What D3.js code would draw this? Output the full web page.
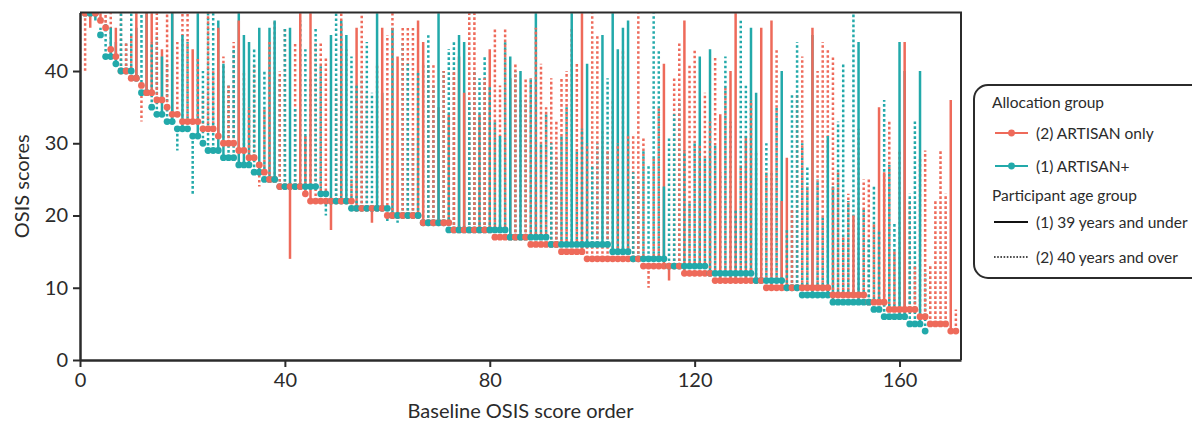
<!DOCTYPE html>
<html>
<head>
<meta charset="utf-8">
<script src="https://cdn.jsdelivr.net/npm/d3@7"></script>
<style>
  body { margin: 0; background: #fff; }
  svg { font-family: Lato, "Open Sans", sans-serif; }
</style>
</head>
<body>
<svg id="chart_svg"></svg>
<script>
// (2) ARTISAN only, ordered by baseline score
const redBaseline = [
  48, 48, 48, 47, 46, 43, 42, 40, 40, 39,
  39, 38, 37, 37, 36, 36, 35, 34, 34, 33,
  33, 33, 33, 32, 32, 32, 31, 30, 30, 30,
  29, 29, 28, 28, 27, 26, 25, 25, 24, 24,
  24, 24, 24, 23, 22, 22, 22, 22, 22, 22,
  22, 22, 22, 21, 21, 21, 21, 21, 21, 20,
  20, 20, 20, 20, 20, 20, 19, 19, 19, 19,
  19, 19, 18, 18, 18, 18, 18, 18, 18, 18,
  17, 17, 17, 17, 17, 17, 17, 16, 16, 16,
  16, 16, 16, 15, 15, 15, 15, 15, 14, 14,
  14, 14, 14, 14, 14, 14, 14, 14, 14, 13,
  13, 13, 13, 13, 13, 13, 13, 12, 12, 12,
  12, 12, 12, 11, 11, 11, 11, 11, 11, 11,
  11, 11, 11, 10, 10, 10, 10, 10, 10, 10,
  10, 10, 10, 10, 10, 10, 9, 9, 9, 9,
  9, 9, 9, 8, 8, 8, 8, 7, 7, 7,
  7, 7, 7, 6, 6, 5, 5, 5, 5, 4, 4
];
const redFollowUp = [
  40, 46, 48, 48, 48, 48, 46, 48, 44, 45,
  48, 33, 48, 48, 48, 43, 48, 48, 44, 48,
  48, 43, 42, 37, 48, 40, 46, 42, 38, 44,
  47, 40, 35, 41, 24, 35, 44, 47, 40, 46,
  14, 44, 48, 31, 48, 44, 44, 42, 18, 38,
  48, 43, 25, 46, 48, 37, 19, 41, 46, 45,
  48, 42, 46, 46, 46, 47, 44, 41, 41, 35,
  40, 34, 40, 42, 37, 48, 48, 34, 39, 43,
  46, 38, 46, 39, 41, 36, 39, 39, 46, 41,
  35, 39, 33, 39, 40, 46, 41, 48, 30, 48,
  45, 32, 29, 36, 30, 43, 31, 31, 48, 31,
  10, 28, 35, 41, 11, 39, 44, 47, 41, 43,
  30, 37, 33, 42, 34, 38, 40, 48, 27, 31,
  36, 29, 46, 26, 47, 43, 22, 28, 21, 37,
  42, 24, 46, 40, 44, 43, 42, 26, 17, 23,
  20, 32, 25, 25, 19, 35, 26, 33, 15, 29,
  44, 22, 13, 28, 29, 13, 22, 29, 23, 36, 7
];
const redAgeGroup = [
  2, 1, 2, 1, 2, 2, 1, 2, 2, 2,
  1, 2, 1, 1, 2, 1, 2, 1, 2, 2,
  2, 1, 2, 2, 2, 2, 1, 2, 2, 2,
  1, 2, 2, 2, 2, 2, 2, 2, 2, 2,
  1, 2, 1, 1, 1, 2, 2, 2, 1, 2,
  2, 2, 2, 1, 2, 2, 1, 2, 1, 2,
  2, 1, 2, 2, 2, 1, 1, 2, 2, 1,
  2, 1, 2, 1, 1, 2, 2, 1, 2, 1,
  2, 2, 2, 1, 2, 2, 2, 2, 2, 2,
  2, 2, 2, 2, 2, 2, 2, 1, 2, 2,
  2, 2, 2, 2, 2, 2, 2, 2, 2, 2,
  2, 2, 2, 1, 1, 2, 2, 1, 2, 2,
  2, 2, 2, 2, 1, 2, 1, 1, 2, 1,
  2, 2, 1, 2, 1, 2, 1, 1, 2, 2,
  2, 2, 1, 2, 2, 2, 2, 2, 2, 2,
  1, 2, 2, 2, 2, 1, 1, 2, 2, 2,
  1, 2, 2, 2, 2, 2, 2, 2, 2, 1, 2
];

// (1) ARTISAN+, ordered by baseline score
const tealBaseline = [
  48, 48, 48, 45, 42, 42, 41, 40, 40, 40,
  39, 37, 37, 35, 34, 34, 33, 33, 32, 32,
  32, 31, 31, 30, 29, 29, 29, 28, 28, 28,
  27, 27, 27, 26, 26, 25, 25, 25, 24, 24,
  24, 24, 24, 24, 24, 24, 23, 23, 22, 22,
  22, 22, 21, 21, 21, 21, 21, 21, 21, 21,
  20, 20, 20, 20, 20, 20, 19, 19, 19, 19,
  19, 18, 18, 18, 18, 18, 18, 18, 18, 18,
  18, 18, 18, 17, 17, 17, 17, 17, 17, 17,
  17, 16, 16, 16, 16, 16, 16, 16, 16, 16,
  16, 16, 16, 15, 15, 15, 15, 14, 14, 14,
  14, 14, 14, 14, 13, 13, 13, 13, 13, 13,
  13, 13, 12, 12, 12, 12, 12, 12, 12, 12,
  12, 11, 11, 11, 11, 11, 11, 10, 10, 10,
  9, 9, 9, 9, 9, 9, 8, 8, 8, 8,
  8, 8, 8, 8, 7, 7, 6, 6, 6, 6,
  6, 5, 5, 5, 4
];
const tealFollowUp = [
  48, 48, 47, 46, 47, 46, 44, 48, 44, 48,
  46, 48, 48, 44, 45, 42, 41, 48, 29, 45,
  44, 23, 48, 40, 48, 48, 47, 41, 38, 43,
  48, 45, 44, 43, 46, 40, 46, 47, 39, 46,
  46, 35, 47, 43, 39, 46, 41, 20, 45, 48,
  47, 45, 42, 38, 40, 44, 37, 48, 37, 19,
  46, 19, 44, 41, 31, 40, 41, 45, 38, 48,
  40, 43, 44, 45, 44, 36, 40, 39, 42, 38,
  33, 31, 44, 42, 40, 40, 36, 39, 48, 30,
  34, 30, 28, 31, 35, 48, 29, 32, 41, 27,
  30, 45, 39, 48, 43, 46, 47, 26, 25, 29,
  27, 48, 43, 24, 31, 34, 36, 29, 22, 30,
  42, 28, 43, 30, 26, 42, 33, 21, 47, 38,
  46, 37, 22, 30, 26, 35, 40, 18, 37, 44,
  30, 27, 45, 25, 20, 31, 24, 33, 41, 22,
  48, 44, 21, 17, 24, 18, 36, 27, 19, 44,
  40, 23, 33, 40, 12
];
const tealAgeGroup = [
  2, 2, 1, 2, 2, 1, 1, 2, 2, 2,
  1, 2, 1, 2, 2, 1, 2, 1, 2, 1,
  2, 2, 1, 2, 2, 2, 1, 1, 2, 2,
  1, 1, 1, 2, 1, 2, 1, 1, 2, 2,
  1, 2, 2, 2, 2, 2, 2, 2, 1, 2,
  1, 1, 2, 2, 2, 2, 2, 1, 1, 2,
  1, 2, 2, 2, 2, 2, 2, 2, 2, 1,
  2, 2, 2, 1, 1, 2, 2, 2, 2, 2,
  2, 1, 2, 1, 2, 1, 2, 2, 1, 2,
  2, 2, 2, 2, 2, 1, 2, 2, 1, 2,
  2, 1, 2, 1, 1, 1, 1, 2, 2, 2,
  2, 2, 2, 1, 2, 2, 2, 2, 2, 2,
  1, 2, 1, 2, 2, 2, 2, 2, 2, 2,
  1, 1, 2, 2, 2, 2, 1, 2, 2, 2,
  2, 2, 1, 2, 2, 1, 1, 2, 2, 2,
  2, 1, 2, 2, 2, 2, 2, 2, 2, 1,
  1, 2, 2, 1, 2
];

const xTicks = [0, 40, 80, 120, 160];
const yTicks = [0, 10, 20, 30, 40];
const groupLabels = ["(2) ARTISAN only", "(1) ARTISAN+"];
const ageLabels = ["(1) 39 years and under", "(2) 40 years and over"];

const red = "#ee6a5a";
const teal = "#22a9aa";

function buildParticipants(baseline, followUp, age, color, group) {
  return baseline.map((b, i) => ({
    order: i + 1,
    baseline: b,
    followUp: followUp[i],
    age: age[i],
    color,
    group,
  }));
}

const redRows = buildParticipants(redBaseline, redFollowUp, redAgeGroup, red, 2);
const tealRows = buildParticipants(tealBaseline, tealFollowUp, tealAgeGroup, teal, 1);

function drawChart() {
  const width = 1192;
  const height = 425;
  const left = 80, right = 961, top = 12.5, bottom = 360;

  const svg = d3.select("#chart_svg").attr("width", width).attr("height", height);

  const x = d3.scaleLinear().domain([0, 172]).range([left, right]);
  const y = d3.scaleLinear().domain([0, 48.1]).range([bottom, top]);

  svg.append("clipPath").attr("id", "plot_clip")
    .append("rect")
    .attr("x", left).attr("y", top)
    .attr("width", right - left).attr("height", bottom - top);

  const plot = svg.append("g").attr("clip-path", "url(#plot_clip)");

  // draw in participant order, the two groups taking turns on top
  const rows = redRows.concat(tealRows).sort((a, b) => {
    if (a.order !== b.order) return a.order - b.order;
    const topGroup = a.order % 2 === 0 ? 1 : 2;
    return (a.group === topGroup) - (b.group === topGroup);
  });

  plot.append("g")
    .selectAll("line")
    .data(rows)
    .join("line")
    .attr("x1", (d) => x(d.order))
    .attr("x2", (d) => x(d.order))
    .attr("y1", (d) => y(d.baseline))
    .attr("y2", (d) => y(d.followUp))
    .attr("stroke", (d) => d.color)
    .attr("stroke-width", 2.5)
    .attr("stroke-dasharray", (d) => (d.age === 2 ? "2.6,2.4" : null));

  plot.append("g")
    .selectAll("circle")
    .data(rows)
    .join("circle")
    .attr("cx", (d) => x(d.order))
    .attr("cy", (d) => y(d.baseline))
    .attr("r", 3.4)
    .attr("fill", (d) => d.color);

  // frame on top and right
  svg.append("path")
    .attr("d", `M${left},${top}H${right}V${bottom}`)
    .attr("fill", "none")
    .attr("stroke", "#2b2b2b")
    .attr("stroke-width", 2);

  const xAxis = svg.append("g")
    .attr("transform", `translate(0,${bottom})`)
    .call(d3.axisBottom(x).tickValues(xTicks).tickSize(7).tickSizeOuter(0).tickPadding(6));
  const yAxis = svg.append("g")
    .attr("transform", `translate(${left},0)`)
    .call(d3.axisLeft(y).tickValues(yTicks).tickSize(7).tickSizeOuter(0).tickPadding(5));

  [xAxis, yAxis].forEach((a) => {
    a.select(".domain").attr("stroke", "#2b2b2b").attr("stroke-width", 2.5);
    a.selectAll(".tick line").attr("stroke", "#2b2b2b").attr("stroke-width", 2);
    a.selectAll(".tick text")
      .attr("fill", "#2b2b2b")
      .style("font-size", "20px")
      .style("font-family", "Lato, sans-serif");
  });

  svg.append("text")
    .attr("x", (left + right) / 2)
    .attr("y", 418)
    .attr("text-anchor", "middle")
    .attr("fill", "#2b2b2b")
    .style("font-size", "20px")
    .text("Baseline OSIS score order");

  svg.append("text")
    .attr("transform", `translate(29,${(top + bottom) / 2}) rotate(-90)`)
    .attr("text-anchor", "middle")
    .attr("fill", "#2b2b2b")
    .style("font-size", "20px")
    .text("OSIS scores");

  drawLegend(svg);
}

function drawLegend(svg) {
  const g = svg.append("g");
  g.append("rect")
    .attr("x", 974).attr("y", 85)
    .attr("width", 240).attr("height", 193)
    .attr("rx", 14)
    .attr("fill", "#fff")
    .attr("stroke", "#2b2b2b")
    .attr("stroke-width", 2);

  const textStyle = (sel) => sel.attr("fill", "#2b2b2b").style("font-size", "15.5px");

  g.append("text").attr("x", 992).attr("y", 108).text("Allocation group").call(textStyle);

  const groupRows = [
    { label: groupLabels[0], color: red, y: 133 },
    { label: groupLabels[1], color: teal, y: 166 },
  ];
  groupRows.forEach((r) => {
    g.append("line")
      .attr("x1", 995).attr("x2", 1028)
      .attr("y1", r.y).attr("y2", r.y)
      .attr("stroke", r.color).attr("stroke-width", 2);
    g.append("circle").attr("cx", 1011.5).attr("cy", r.y).attr("r", 3.4).attr("fill", r.color);
    g.append("text").attr("x", 1036).attr("y", r.y + 5.5).text(r.label).call(textStyle);
  });

  g.append("text").attr("x", 992).attr("y", 201).text("Participant age group").call(textStyle);

  const ageRows = [
    { label: ageLabels[0], dash: null, y: 222 },
    { label: ageLabels[1], dash: "1.6,1.6", y: 257 },
  ];
  ageRows.forEach((r) => {
    g.append("line")
      .attr("x1", 994).attr("x2", 1028)
      .attr("y1", r.y).attr("y2", r.y)
      .attr("stroke", "#111").attr("stroke-width", r.dash ? 1.6 : 2)
      .attr("stroke-dasharray", r.dash);
    g.append("text").attr("x", 1036).attr("y", r.y + 5.5).text(r.label).call(textStyle);
  });
}

drawChart();
</script>
</body>
</html>
